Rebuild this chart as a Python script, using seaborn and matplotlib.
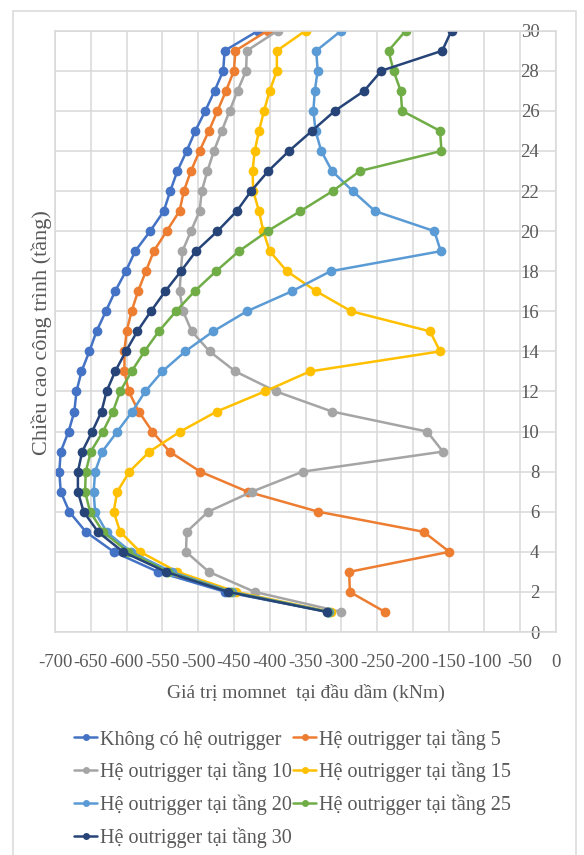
import matplotlib
matplotlib.use("Agg")
import matplotlib.pyplot as plt
import pandas as pd
import seaborn as sns
from matplotlib.patches import Rectangle

# Floor numbers (1..30)
floors = list(range(1, 31))

# Beam-end moment (kNm) per floor, floor 1 -> floor 30
m_none = [-318, -462, -556, -618, -657, -680, -692, -694, -692, -681,
          -673, -670, -663, -652, -642, -629, -616, -601, -588, -567,
          -548, -539, -529, -516, -504, -490, -477, -465, -463, -416]
m_out5 = [-239, -288, -289, -149, -185, -332, -431, -497, -540, -564,
          -583, -597, -603, -603, -600, -593, -584, -573, -562, -544,
          -526, -520, -510, -498, -485, -473, -461, -450, -448, -403]
m_out10 = [-300, -421, -485, -517, -516, -486, -425, -354, -158, -180,
           -313, -391, -448, -484, -509, -521, -526, -524, -522, -510,
           -498, -495, -487, -478, -467, -456, -445, -433, -432, -389]
m_out15 = [-315, -447, -529, -581, -609, -618, -613, -596, -568, -525,
           -474, -407, -344, -162, -176, -286, -335, -376, -400, -409,
           -415, -423, -424, -421, -415, -408, -400, -390, -390, -350]
m_out20 = [-317, -453, -537, -594, -628, -644, -646, -644, -634, -613,
           -592, -574, -550, -518, -479, -432, -369, -315, -161, -170,
           -253, -284, -313, -328, -336, -339, -337, -333, -335, -300]
m_out25 = [-318, -456, -542, -598, -633, -651, -658, -657, -650, -633,
           -619, -609, -593, -575, -555, -531, -505, -475, -443, -403,
           -357, -312, -274, -160, -162, -215, -217, -227, -234, -210]
m_out30 = [-320, -458, -545, -605, -640, -660, -668, -668, -662, -648,
           -635, -628, -616, -601, -585, -566, -546, -524, -503, -473,
           -446, -426, -402, -373, -341, -309, -268, -244, -159, -146]

series_names = [
    "Không có hệ outrigger",
    "Hệ outrigger tại tầng 5",
    "Hệ outrigger tại tầng 10",
    "Hệ outrigger tại tầng 15",
    "Hệ outrigger tại tầng 20",
    "Hệ outrigger tại tầng 25",
    "Hệ outrigger tại tầng 30",
]
series_values = [m_none, m_out5, m_out10, m_out15, m_out20, m_out25, m_out30]
colors = ["#4472C4", "#ED7D31", "#A5A5A5", "#FFC000", "#5B9BD5", "#70AD47", "#264478"]

x_ticks = list(range(-700, 1, 50))
x_tick_labels = [str(v) for v in x_ticks]
y_ticks = list(range(0, 31, 2))
y_tick_labels = [str(v) for v in y_ticks]

rows = []
for name, vals in zip(series_names, series_values):
    for f, v in zip(floors, vals):
        rows.append({"series": name, "floor": f, "moment": v})
df = pd.DataFrame(rows)

sns.set_style("white")
plt.rcParams["font.family"] = ["Liberation Serif", "DejaVu Serif"]
text_color = "#595959"
grid_color = "#D9D9D9"

W, H = 584, 855
fig = plt.figure(figsize=(W / 100, H / 100), dpi=100)
L, R, T, B = 55, 556, 30.7, 632
ax = fig.add_axes([L / W, 1 - B / H, (R - L) / W, (B - T) / H])

sns.lineplot(data=df, x="moment", y="floor", hue="series", hue_order=series_names,
             palette=colors, sort=False, estimator=None, marker="o",
             markersize=7, markeredgewidth=0, linewidth=1.8, ax=ax)

ax.set_xlim(-700, 0)
ax.set_ylim(0, 30)
ax.set_xticks(x_ticks)
ax.set_xticklabels(x_tick_labels)
ax.set_yticks(y_ticks)
ax.set_yticklabels(y_tick_labels)
ax.yaxis.tick_right()
ax.grid(True, color=grid_color, linewidth=1.1)
ax.set_axisbelow(True)
for s in ax.spines.values():
    s.set_color(grid_color)
    s.set_linewidth(1.1)

ax.tick_params(axis="x", length=0, pad=16, labelsize=13.5, labelcolor=text_color)
ax.tick_params(axis="y", length=0, pad=-12, labelsize=13.5, labelcolor=text_color)
for lab in ax.get_yticklabels():
    lab.set_horizontalalignment("right")

ax.set_xlabel("Giá trị momnet  tại đầu dầm (kNm)", fontsize=14, color=text_color, labelpad=9)
ax.set_ylabel("")
fig.text(42 / W, 1 - 333 / H, "Chiều cao công trình (tầng)", rotation=90,
         ha="center", va="center", fontsize=16, color=text_color)

handles, labels = ax.get_legend_handles_labels()
ax.get_legend().remove()
order = [0, 2, 4, 6, 1, 3, 5]
leg = fig.legend([handles[i] for i in order], [labels[i] for i in order],
                 loc="upper left", bbox_to_anchor=(74 / W, 1 - 729 / H), ncol=2,
                 frameon=False, fontsize=14.5, handlelength=1.15, handletextpad=0.15,
                 columnspacing=0.05, labelspacing=0.62, borderaxespad=0, borderpad=0)
for t in leg.get_texts():
    t.set_color(text_color)
for h in leg.legend_handles:
    h.set_markersize(5)
    h.set_linewidth(1.8)

fig.add_artist(Rectangle((13 / W, -0.01), (575.7 - 13) / W, 1.01 - 10.7 / H,
                         transform=fig.transFigure, fill=False,
                         edgecolor=grid_color, linewidth=1.1))

fig.savefig("out.png", dpi=100)
